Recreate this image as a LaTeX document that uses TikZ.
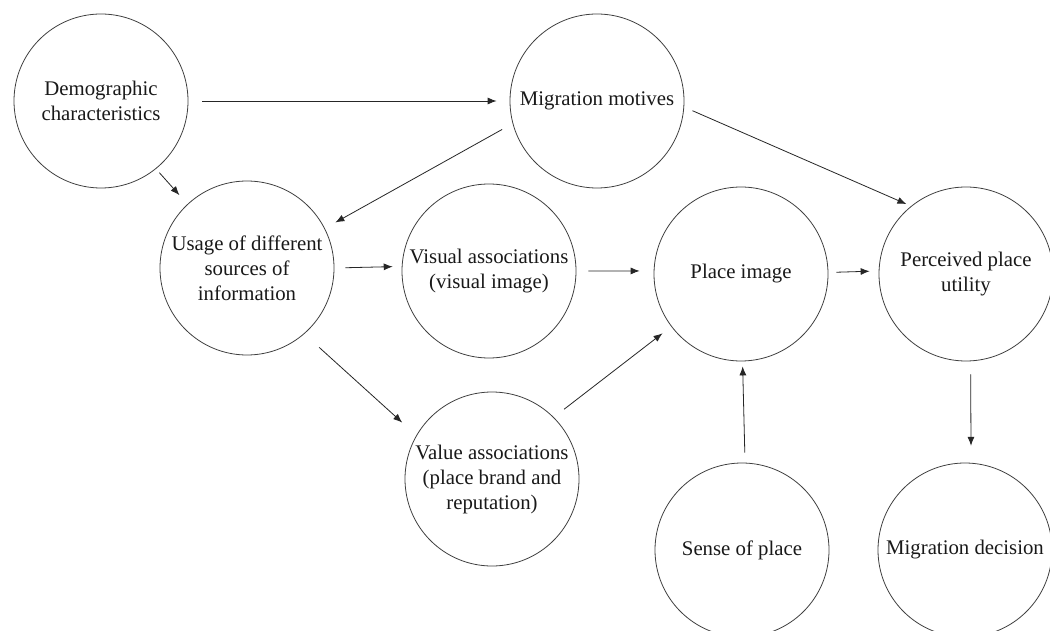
\documentclass[tikz,border=0pt]{standalone}
\usepackage{fontspec}
\setmainfont{Liberation Serif}
\usetikzlibrary{arrows.meta}
\begin{document}
\begin{tikzpicture}[x=1pt,y=-1pt,
  bubble/.style={circle,draw=black!75,line width=0.8pt,minimum size=174pt,inner sep=0pt,
    align=center,font=\fontsize{20.8}{25}\selectfont,text=black!90},
  arr/.style={draw=black!85,line width=0.8pt,-{Latex[length=9pt,width=7pt]}}]
\useasboundingbox (0,0) rectangle (1050,631);
\clip (0,0) rectangle (1050,631);
\fill[white] (0,0) rectangle (1050,631);

\node[bubble] (dem) at (101,101) {Demographic\\characteristics};
\node[bubble] (mot) at (597,101) {Migration motives};
\node[bubble] (use) at (247,268) {Usage of different\\sources of\\information};
\node[bubble] (vis) at (489,271) {Visual associations\\(visual image)};
\node[bubble] (pla) at (741,274) {Place image};
\node[bubble] (per) at (966,274) {Perceived place\\utility};
\node[bubble] (val) at (492,479) {Value associations\\(place brand and\\reputation)};
\node[bubble] (sen) at (742,550) {Sense of place};
\node[bubble] (dec) at (965,550) {Migration decision};

\draw[arr,shorten <=14pt,shorten >=13pt] (dem.0) -- (mot.180);
\draw[arr,shorten <=5pt,shorten >=12pt] (dem.-51.6) -- (use.133);
\draw[arr,shorten <=12pt,shorten >=12pt] (mot.195.9) -- (use.27.6);
\draw[arr,shorten <=9pt,shorten >=5pt] (mot.-4.2) -- (per.129.7);
\draw[arr,shorten <=11pt,shorten >=9pt] (use.0) -- (vis.177.9);
\draw[arr,shorten <=12pt,shorten >=14pt] (vis.0) -- (pla.178.9);
\draw[arr,shorten <=8pt,shorten >=9pt] (pla.1.2) -- (per.178.8);
\draw[arr,shorten <=20pt,shorten >=19pt] (use.-49.2) -- (val.150.8);
\draw[arr,shorten <=13pt,shorten >=11pt] (val.45.8) -- (pla.217.1);
\draw[arr,shorten <=10pt,shorten >=5pt] (sen.88.8) -- (pla.271.9);
\draw[arr,shorten <=13pt,shorten >=17pt] (per.-87.1) -- (dec.86.7);
\end{tikzpicture}
\end{document}
